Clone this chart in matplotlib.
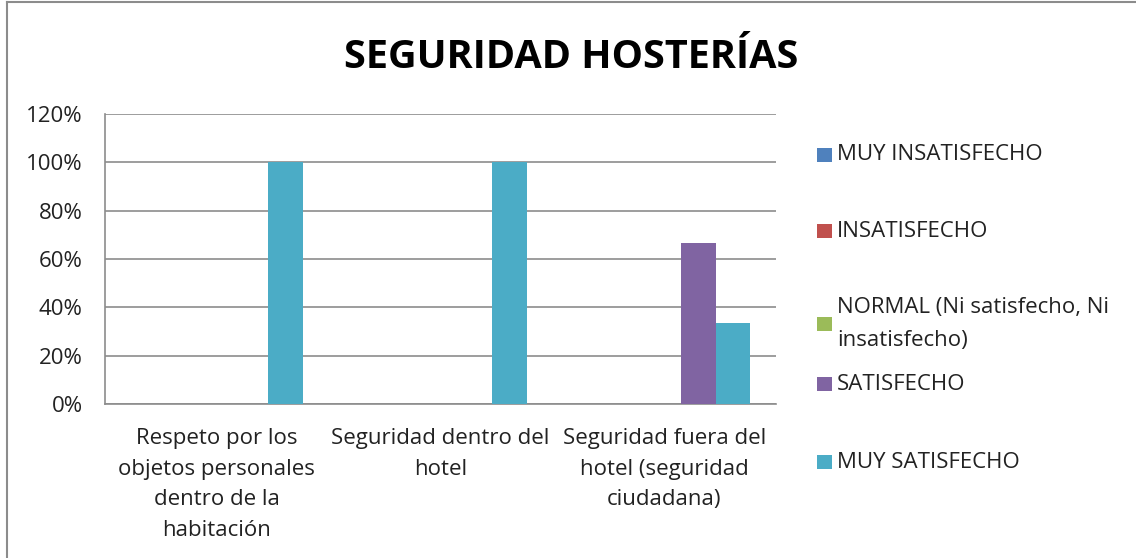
import matplotlib.pyplot as plt
import numpy as np
from matplotlib.patches import Rectangle
from matplotlib.lines import Line2D

plt.rcParams['font.family'] = ['Open Sans', 'DejaVu Sans']

categorias = ["Respeto por los\nobjetos personales\ndentro de la\nhabitación",
              "Seguridad dentro del\nhotel",
              "Seguridad fuera del\nhotel (seguridad\nciudadana)"]
series = ["MUY INSATISFECHO", "INSATISFECHO",
          "NORMAL (Ni satisfecho, Ni\ninsatisfecho)", "SATISFECHO", "MUY SATISFECHO"]
muy_insatisfecho = [0, 0, 0]
insatisfecho = [0, 0, 0]
normal = [0, 0, 0]
satisfecho = [0, 0, 66.67]
muy_satisfecho = [100, 100, 33.33]
colores = ["#4F81BD", "#C0504D", "#9BBB59", "#8064A2", "#4BACC6"]

valores = [muy_insatisfecho, insatisfecho, normal, satisfecho, muy_satisfecho]

fig = plt.figure(figsize=(11.36, 5.58), dpi=100)
ax = fig.add_axes([0.0924, 0.276, 0.5907, 0.5197])

# Excel-style clustered bars: gap width 150%
x = np.arange(len(categorias))
w = 1 / 6.5
for i, (vals, c) in enumerate(zip(valores, colores)):
    ax.bar(x + (i - 2) * w, vals, width=w, color=c, zorder=3)

ax.set_xlim(-0.5, 2.5)
ax.set_ylim(0, 120)
ax.set_yticks(range(0, 121, 20))
ax.set_yticklabels([f"{v}%" for v in range(0, 121, 20)], fontsize=16, color="#222222")
ax.set_xticks(x)
ax.set_xticklabels(categorias, fontsize=16, color="#222222", linespacing=1.62, va="top")
ax.tick_params(axis="y", length=0, pad=16)
ax.tick_params(axis="x", length=0, pad=17)
ax.yaxis.grid(True, color="#8c8c8c", linewidth=1.2, zorder=0)
for s in ["top", "right"]:
    ax.spines[s].set_visible(False)
for s in ["left", "bottom"]:
    ax.spines[s].set_color("#8c8c8c")
    ax.spines[s].set_linewidth(1.2)

fig.text(0.503, 0.897, "SEGURIDAD HOSTERÍAS", ha="center", va="center",
         fontsize=28.5, fontweight="bold")

# legend drawn by hand to follow the uneven Excel spacing
leg_y = [155, 231, 324, 384, 462]
for lab, c, yy in zip(series, colores, leg_y):
    yf = 1 - yy / 558
    fig.patches.append(Rectangle((817 / 1136, yf - 7 / 558), 15 / 1136, 14 / 558,
                                 transform=fig.transFigure, facecolor=c, edgecolor="none"))
    fig.text(837 / 1136, yf, lab, ha="left", va="center", fontsize=16,
             color="#222222", linespacing=1.7)

# outer chart border
fig.add_artist(Line2D([7 / 1136, 7 / 1136], [0, 1 - 2 / 558], color="#8c8c8c",
                      linewidth=1.5, transform=fig.transFigure))
fig.add_artist(Line2D([7 / 1136, 1], [1 - 2 / 558, 1 - 2 / 558], color="#8c8c8c",
                      linewidth=1.5, transform=fig.transFigure))

fig.savefig("out.png", dpi=100)
